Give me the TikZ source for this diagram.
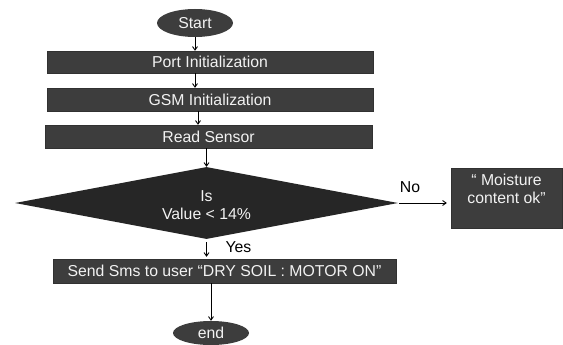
\documentclass[tikz,border=0pt]{standalone}
\usepackage{fontspec}
\setmainfont{Liberation Sans}
\usetikzlibrary{shapes.geometric,arrows.meta}
\definecolor{boxgray}{HTML}{3D3D3D}
\definecolor{diagray}{HTML}{262626}
\definecolor{txt}{HTML}{F2F2F2}
\begin{document}
\begin{tikzpicture}[x=1pt,y=-1pt,
  every node/.style={font=\fontsize{15.8}{18}\selectfont, text=txt, inner sep=0pt},
  procbox/.style={rectangle, fill=boxgray, draw=boxgray!80!black, line width=0.4pt},
  term/.style={ellipse, fill=boxgray},
  decis/.style={diamond, aspect=5.3, fill=diagray, align=center},
  conn/.style={draw=black, line width=0.9pt, -{Straight Barb[length=3.5pt,width=5pt]}},
  lbl/.style={text=black}]
\useasboundingbox (0,0) rectangle (563,345);
\node[term, minimum width=76, minimum height=28] (start) at (195,23) {Start};
\node[procbox, minimum width=326, minimum height=22] (port) at (210,62) {Port Initialization};
\node[procbox, minimum width=326, minimum height=23] (gsm) at (210,99.5) {GSM Initialization};
\node[procbox, minimum width=327, minimum height=23] (read) at (208.5,136.5) {Read Sensor};
\node[decis, minimum width=383, minimum height=72] (dia) at (206.5,203) {\raisebox{-4pt}[\height][\depth]{\begin{tabular}{@{}c@{}}Is\\Value < 14\%\end{tabular}}};
\node[procbox, minimum width=111, minimum height=60, align=center] (moist) at (506.5,198) {“ Moisture\\content ok”\\~};
\node[procbox, minimum width=343, minimum height=24] (send) at (224.5,271) {Send Sms to user “DRY SOIL : MOTOR ON”};
\node[term, minimum width=76, minimum height=24] (end) at (211,333) {end};
\draw[conn] (start.south) -- (start.south |- port.north);
\draw[conn] (start.south |- port.south) -- (start.south |- gsm.north);
\draw[conn] ([xshift=-12]gsm.south) -- ([xshift=-12]gsm.south |- read.north);
\draw[conn] (dia.north |- read.south) -- (dia.north);
\draw[conn, shorten <=3pt, shorten >=2pt] (dia.south) -- (dia.south |- send.north);
\draw[conn] (end.north |- send.south) -- (end.north);
\draw[conn, shorten <=1pt, shorten >=4pt] (dia.east) -- (dia.east -| moist.west);
\node[lbl] (nolbl) at (410,187) {No};
\node[lbl] (yeslbl) at (238.5,247) {Yes};
\end{tikzpicture}
\end{document}
